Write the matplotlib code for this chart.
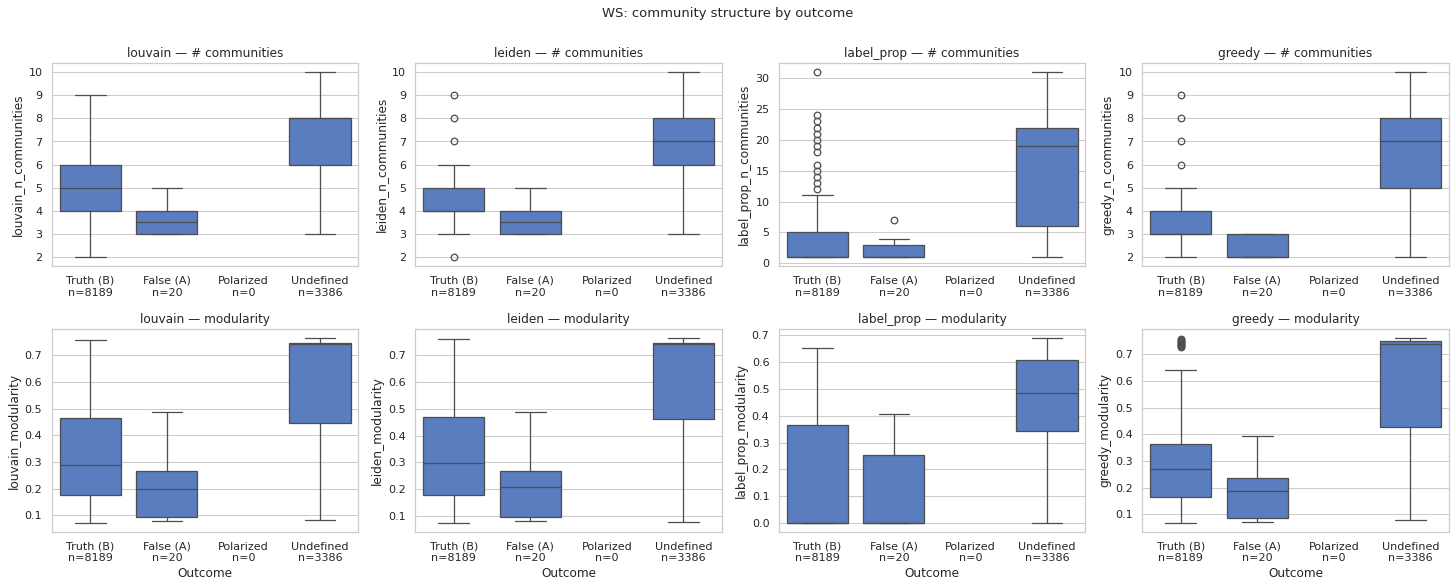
import matplotlib
matplotlib.use("Agg")
import matplotlib.pyplot as plt
from matplotlib.ticker import MultipleLocator
import seaborn as sns

sns.set_theme(style="whitegrid", context="notebook")
plt.rcParams['font.family'] = ['DejaVu Sans']

categories = ["Truth (B)", "False (A)", "Polarized", "Undefined"]
counts = [8189, 20, 0, 3386]
algorithms = ["louvain", "leiden", "label_prop", "greedy"]

# stats per algorithm: [whislo, q1, med, q3, whishi] for Truth, False, Undefined (Polarized empty)
ncomm_stats = {
    "louvain":    [[2, 4, 5, 6, 9], [3, 3, 3.5, 4, 5], [3, 6, 8, 8, 10]],
    "leiden":     [[3, 4, 4, 5, 6], [3, 3, 3.5, 4, 5], [3, 6, 7, 8, 10]],
    "label_prop": [[1, 1, 1, 5, 11], [1, 1, 1, 3, 4], [1, 6, 19, 22, 31]],
    "greedy":     [[2, 3, 3, 4, 5], [2, 2, 2, 3, 3], [2, 5, 7, 8, 10]],
}
ncomm_fliers = {
    "louvain":    [[], [], []],
    "leiden":     [[2, 7, 8, 9], [], []],
    "label_prop": [[12, 13, 14, 15, 16, 18, 19, 20, 21, 22, 23, 24, 31], [7], []],
    "greedy":     [[6, 7, 8, 9], [], []],
}
mod_stats = {
    "louvain":    [[0.072, 0.175, 0.288, 0.465, 0.758], [0.080, 0.093, 0.198, 0.267, 0.487], [0.083, 0.448, 0.741, 0.745, 0.765]],
    "leiden":     [[0.073, 0.178, 0.297, 0.468, 0.760], [0.081, 0.094, 0.207, 0.267, 0.488], [0.075, 0.462, 0.743, 0.747, 0.765]],
    "label_prop": [[0.0, 0.0, 0.0, 0.366, 0.652], [0.0, 0.0, 0.0, 0.252, 0.406], [0.0, 0.342, 0.483, 0.607, 0.690]],
    "greedy":     [[0.067, 0.163, 0.270, 0.364, 0.643], [0.069, 0.084, 0.186, 0.235, 0.395], [0.076, 0.426, 0.738, 0.750, 0.762]],
}
mod_fliers = {
    "louvain":    [[], [], []],
    "leiden":     [[], [], []],
    "label_prop": [[], [], []],
    "greedy":     [[0.728, 0.732, 0.736, 0.740, 0.744, 0.748, 0.752, 0.756, 0.760], [], []],
}

box_positions = [0, 1, 3]
fill = "#597dbf"
line = "#4d4d4d"
lw = 1.25

fig, axes = plt.subplots(2, 4, figsize=(20, 8.077), dpi=72.8)
fig.subplots_adjust(left=0.0357, right=0.995, top=0.893, bottom=0.095, wspace=0.187, hspace=0.307)

xticklabels = [f"{c}\nn={n}" for c, n in zip(categories, counts)]

def draw(ax, stats, fliers):
    bxp_stats = []
    for s, f in zip(stats, fliers):
        bxp_stats.append(dict(whislo=s[0], q1=s[1], med=s[2], q3=s[3], whishi=s[4], fliers=f))
    ax.bxp(bxp_stats, positions=box_positions, widths=0.8, patch_artist=True,
           showfliers=True,
           boxprops=dict(facecolor=fill, edgecolor=line, linewidth=lw),
           whiskerprops=dict(color=line, linewidth=lw),
           capprops=dict(color=line, linewidth=lw),
           medianprops=dict(color=line, linewidth=lw),
           flierprops=dict(marker='o', markerfacecolor='none', markeredgecolor=line,
                           markersize=6.5, markeredgewidth=lw, linestyle='none'),
           capwidths=0.4)
    ax.set_xlim(-0.5, 3.5)
    ax.set_xticks(range(len(categories)))
    ax.set_xticklabels(xticklabels)
    ax.xaxis.grid(False)
    ax.yaxis.grid(True)
    ax.tick_params(axis='both', labelsize=11)

for j, alg in enumerate(algorithms):
    ax = axes[0, j]
    draw(ax, ncomm_stats[alg], ncomm_fliers[alg])
    ax.set_title(f"{alg} — # communities", fontsize=12)
    ax.set_ylabel(f"{alg}_n_communities", fontsize=12)
    ax.set_xlabel("")
    ax.yaxis.set_major_locator(MultipleLocator(5 if alg == "label_prop" else 1))

    ax = axes[1, j]
    draw(ax, mod_stats[alg], mod_fliers[alg])
    ax.set_title(f"{alg} — modularity", fontsize=12)
    ax.set_ylabel(f"{alg}_modularity", fontsize=12)
    ax.set_xlabel("Outcome", fontsize=12)
    ax.yaxis.set_major_locator(MultipleLocator(0.1))

fig.suptitle("WS: community structure by outcome", fontsize=13, y=0.988)
fig.savefig("out.png", dpi=72.8)
